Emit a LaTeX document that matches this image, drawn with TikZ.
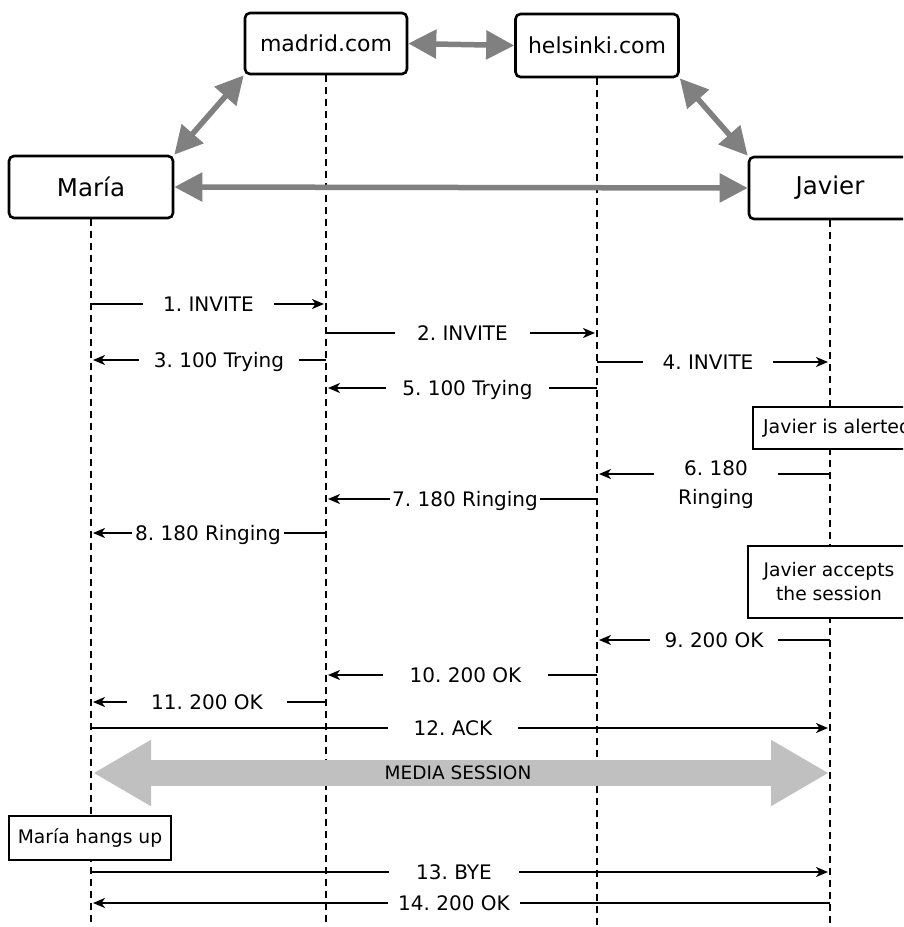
\documentclass[tikz,border=0pt]{standalone}
\usepackage{fontspec}
\setmainfont{DejaVu Sans}
\usetikzlibrary{arrows.meta}
\definecolor{linkgray}{RGB}{128,128,128}
\definecolor{bandgray}{RGB}{192,192,192}
\frenchspacing
\begin{document}
\begin{tikzpicture}[x=1pt,y=-1pt,
  party/.style={draw=black, line width=2.6pt, rounded corners=5pt, fill=white,
    minimum width=162pt, minimum height=62pt, inner sep=0pt},
  note/.style={draw=black, line width=2.2pt, fill=white, inner sep=0pt,
    font=\fontsize{18.7}{24}\selectfont, align=center},
  life/.style={draw=black, line width=2.8pt, dash pattern=on 7pt off 5pt},
  link/.style={draw=linkgray, line width=5.5pt,
    {Triangle[length=28pt,width=28pt]}-{Triangle[length=28pt,width=28pt]}},
  msg/.style={draw=black, line width=1.9pt,
    -{Stealth[length=12pt,width=10pt,inset=3.5pt]}, shorten >=2pt},
  lbl/.style={fill=white, inner ysep=3pt, text height=14.6pt, text depth=0pt,
    font=\fontsize{20}{24}\selectfont},
  media/.style={draw=bandgray, line width=26pt,
    {Triangle[length=58pt,width=62pt]}-{Triangle[length=58pt,width=62pt]}},
]
\useasboundingbox (0,0) rectangle (903,927);
\clip (0,0) rectangle (903,927);

% parties
\node[party, minimum height=61pt, font=\fontsize{22}{26}\selectfont] (madrid) at (326,43.5) {madrid.com};
\node[party, minimum width=163pt, minimum height=63pt, font=\fontsize{22}{26}\selectfont] (helsinki) at (597,45.5) {helsinki.com};
\node[party, minimum width=164pt, font=\fontsize{24.5}{28}\selectfont] (maria) at (91,187) {María};
\node[party, font=\fontsize{24.5}{28}\selectfont] (javier) at (830,188) {Javier};

% lifelines
\coordinate (mariaEnd) at (maria |- 0,927);
\coordinate (madridEnd) at (madrid |- 0,927);
\coordinate (helsinkiEnd) at (helsinki |- 0,927);
\coordinate (javierEnd) at (javier |- 0,927);
\draw[life] (maria.south) -- (mariaEnd);
\draw[life] (madrid.south) -- (madridEnd);
\draw[life] (helsinki.south) -- (helsinkiEnd);
\draw[life] (javier.south) -- (javierEnd);

% signalling paths between the parties
\draw[link] (maria.north east) -- (madrid.south west);
\draw[link] (madrid.east) -- (helsinki.west);
\draw[link] (helsinki.south east) -- (javier.north west);
\draw[link] (maria.east) -- (javier.west);

% notes on the lifelines
\node[note, anchor=west, inner xsep=10pt, minimum height=42pt, font=\fontsize{19}{24}\selectfont] (alerted) at (752,428) {Javier is alerted};
\node[note, minimum width=162pt, minimum height=72pt] (accepts) at (829,582) {Javier accepts\\the session};
\node[note, minimum width=162pt, minimum height=44pt] (hangs) at (90,838) {María hangs up};

% messages
\draw[msg] (maria |- 0,304) -- (madrid |- 0,304);
\node[lbl, inner xsep=20pt] (l1) at (208.5,304) {1. INVITE};

\draw[msg] (madrid |- 0,333) -- (helsinki |- 0,333);
\node[lbl, inner xsep=22pt] (l2) at (462.5,333) {2. INVITE};

\draw[msg] (madrid |- 0,360) -- (maria |- 0,360);
\node[lbl, inner xsep=14.5pt] (l3) at (219,360) {3. 100 Trying};

\draw[msg] (helsinki |- 0,362) -- (javier |- 0,362);
\node[lbl, inner xsep=19.5pt] (l4) at (708,362) {4. INVITE};

\draw[msg] (helsinki |- 0,388) -- (madrid |- 0,388);
\node[lbl, inner xsep=16pt] (l5) at (467.5,388) {5. 100 Trying};

\draw[msg] (javier |- 0,474) -- (helsinki |- 0,474);
\node[fill=white, inner xsep=24pt, inner ysep=4pt, align=center,
  font=\fontsize{20}{29}\selectfont] (l6) at (716,485) {6. 180\\Ringing};

\draw[msg] (helsinki |- 0,499) -- (madrid |- 0,499);
\node[lbl, inner xsep=2pt] (l7) at (465,499) {7. 180 Ringing};

\draw[msg] (madrid |- 0,533) -- (maria |- 0,533);
\node[lbl, inner xsep=3.5pt] (l8) at (208,533) {8. 180 Ringing};

\draw[msg] (javier |- 0,640) -- (helsinki |- 0,640);
\node[lbl, inner xsep=14.5pt] (l9) at (714,640) {9. 200 OK};

\draw[msg] (helsinki |- 0,675) -- (madrid |- 0,675);
\node[lbl, inner xsep=27pt] (l10) at (465.5,675) {10. 200 OK};

\draw[msg] (madrid |- 0,702) -- (maria |- 0,702);
\node[lbl, inner xsep=24pt] (l11) at (207,702) {11. 200 OK};

\draw[msg] (maria |- 0,728) -- (javier |- 0,728);
\node[lbl, inner xsep=25.5pt] (l12) at (453,728) {12. ACK};

% media session
\draw[media, shorten <=2pt, shorten >=1pt] (maria |- 0,773) -- (javier |- 0,773);
\node[font=\fontsize{18.5}{22}\selectfont] (session) at (458,773) {MEDIA SESSION};

\draw[msg] (maria |- 0,872) -- (javier |- 0,872);
\node[lbl, inner xsep=27.5pt] (l13) at (454,872) {13. BYE};

\draw[msg] (javier |- 0,903) -- (maria |- 0,903);
\node[lbl, inner xsep=10pt] (l14) at (454,903) {14. 200 OK};
\end{tikzpicture}
\end{document}
